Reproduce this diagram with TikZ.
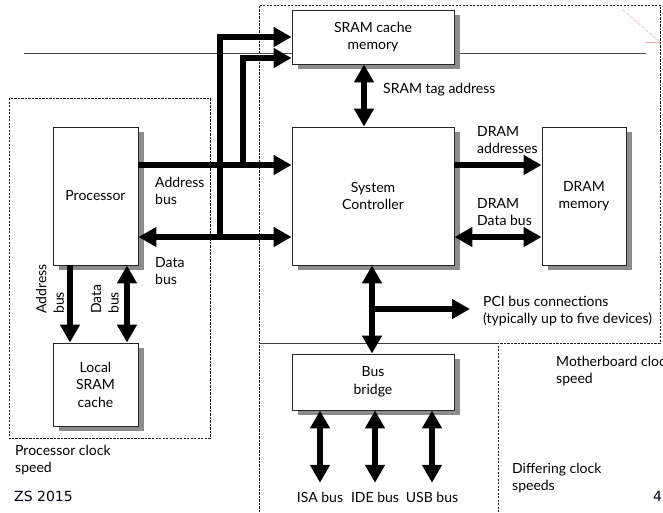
\documentclass[tikz,border=0pt]{standalone}
\usepackage{fontspec}
\setmainfont{Lato}
\newfontfamily\zsfont{DejaVu Sans}
\usetikzlibrary{arrows.meta,shadows}
\tikzset{
  box/.style={draw=black!85, line width=0.9pt, fill=white, inner sep=0pt, align=center,
    general shadow={fill=black!45, shadow xshift=6pt, shadow yshift=-5pt}},
  bus/.style={line width=5.5pt, black},
  tip/.tip={Triangle[length=18pt,width=19pt]},
  dsh/.style={draw=black!90, line width=1pt, dash pattern=on 2.4pt off 1.1pt},
  lbl/.style={inner sep=0pt, align=left, anchor=west},
}
\begin{document}
\begin{tikzpicture}[x=1pt,y=-1pt,font=\fontsize{14}{17.5}\selectfont]
\useasboundingbox (0,0) rectangle (663,512);
\fill[white] (0,0) rectangle (663,512);
% region outlines
\draw[dsh] (259,512) -- (259,5) -- (660,5) -- (660,343) -- (498,343) -- (498,512);
\draw[draw=black!75, line width=0.9pt] (259,343) -- (498,343);
\draw[dsh] (9,98) rectangle (210,438);
\draw[draw=black!70, line width=0.8pt] (24,53) -- (646,53);
\draw[red!35, line width=0.6pt, densely dashed] (623,10) -- (660,42);
\draw[red!35, line width=0.6pt] (645,42) -- (660,42);
% boxes
\node[box, minimum width=162pt, minimum height=54pt] (sram) at (373,37) {SRAM cache\\memory};
\node[box, minimum width=85pt, minimum height=138pt] (proc) at (95.5,196) {Processor};
\node[box, minimum width=85pt, minimum height=83pt] (lsc) at (95.5,384.5) {Local\\SRAM\\cache};
\node[box, minimum width=162pt, minimum height=138pt] (sc) at (373,196) {System\\Controller};
\node[box, minimum width=84pt, minimum height=138pt] (dram) at (584,196) {DRAM\\memory};
\node[box, minimum width=162pt, minimum height=56pt] (bb) at (373,382) {Bus\\bridge};
% helper coordinates
\coordinate (ya) at (0,165);
\coordinate (yd) at (0,237);
\coordinate (j1) at (220,237);
\coordinate (j2) at (243,165);
\coordinate (ys2) at (0,58);
\coordinate (xt) at (364,0);
\coordinate (xp) at (372,0);
\coordinate (jp) at (372,309);
\coordinate (pciend) at (470,309);
\coordinate (xa) at (70,0);
\coordinate (xd) at (127,0);
% processor buses
\draw[bus,-tip] (proc.east |- ya) -- (sc.west |- ya);
\draw[bus,tip-tip] (proc.east |- yd) -- (sc.west |- yd);
\draw[bus,-tip] (j1) |- (sram.west);
\draw[bus,-tip] (j2) |- (sram.west |- ys2);
\draw[bus,tip-tip] (sram.south -| xt) -- (sc.north -| xt);
\draw[bus,-tip] (sc.east |- ya) -- (dram.west |- ya);
\draw[bus,tip-tip] (sc.east |- yd) -- (dram.west |- yd);
\draw[bus,tip-tip] (sc.south -| xp) -- (bb.north -| xp);
\draw[bus,-tip] (jp) -- (pciend);
\draw[bus,-tip] (proc.south -| xa) -- (lsc.north -| xa);
\draw[bus,tip-tip] (proc.south -| xd) -- (lsc.north -| xd);
% bottom bus labels and arrows
\node[inner sep=0pt, anchor=base, text height=10pt] (isa) at (320,502) {ISA bus};
\node[inner sep=0pt, anchor=base, text height=10pt] (ide) at (375,502) {IDE bus};
\node[inner sep=0pt, anchor=base, text height=10pt] (usb) at (432,502) {USB bus};
\draw[bus,tip-tip,shorten >=9pt] (bb.south -| isa) -- (isa.north);
\draw[bus,tip-tip,shorten >=9pt] (bb.south -| ide) -- (ide.north);
\draw[bus,tip-tip,shorten >=9pt] (bb.south -| usb) -- (usb.north);
% labels
\node[lbl] (lab1) at (155,191) {Address\\bus};
\node[lbl] (lab2) at (155,271) {Data\\bus};
\node[lbl] (lab3) at (383,90) {SRAM tag address};
\node[lbl] (lab4) at (477,140) {DRAM\\addresses};
\node[lbl] (lab5) at (477,212) {DRAM\\Data bus};
\node[lbl] (lab6) at (483,311) {PCI bus connections\\(typically up to five devices)};
\node[lbl] (lab7) at (556,371) {Motherboard clock\\speed};
\node[lbl] (lab8) at (512,478) {Differing clock\\speeds};
\node[lbl] (lab9) at (15,460) {Processor clock\\speed};
\node[lbl, rotate=90] (lab10) at (50,314) {Address\\bus};
\node[lbl, rotate=90] (lab11) at (105,314) {Data\\bus};
\node[lbl, font=\zsfont\fontsize{14}{16}\selectfont, text=black!90!blue] (zs) at (14,496) {ZS 2015};
\node[lbl, font=\zsfont\fontsize{14}{16}\selectfont, text=black!90!blue] (pg) at (653,496) {4};
\end{tikzpicture}
\end{document}
